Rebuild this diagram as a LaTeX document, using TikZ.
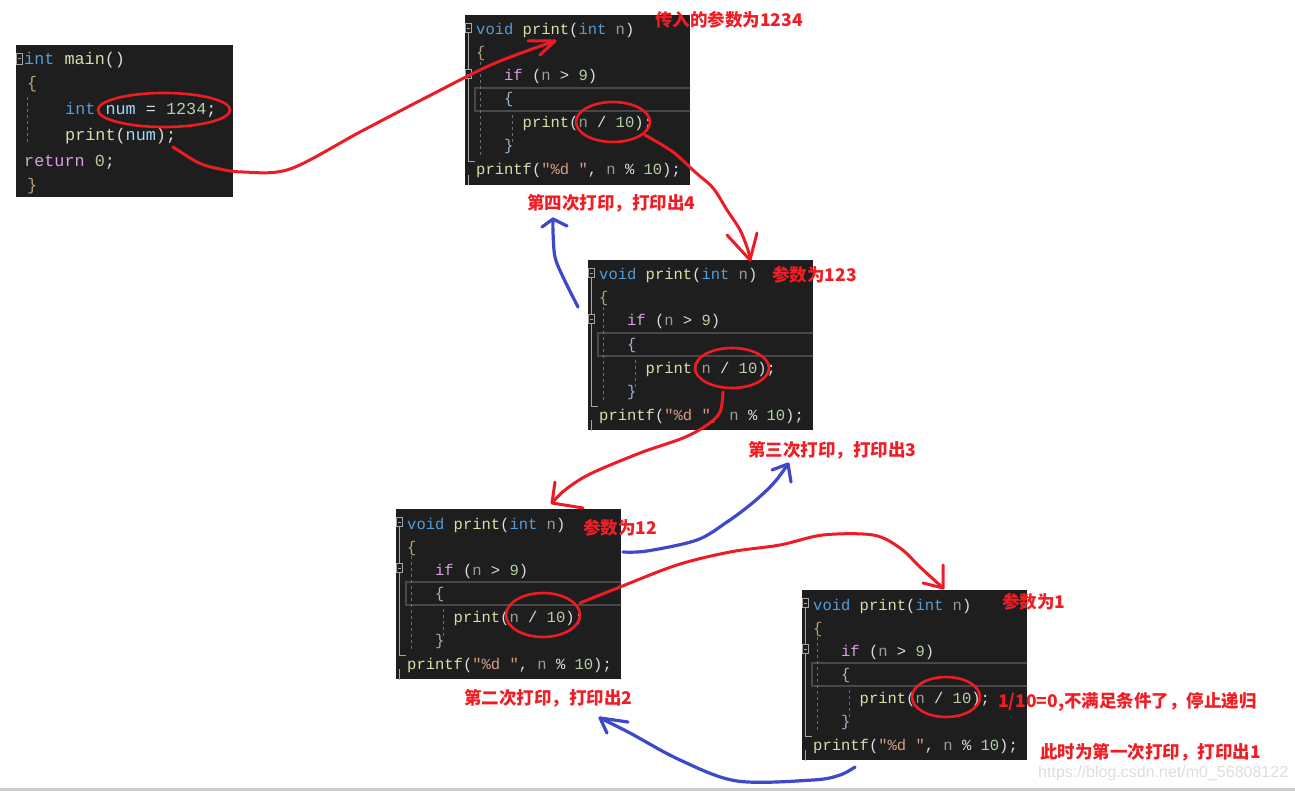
\documentclass[tikz,border=0pt]{standalone}
\usepackage{fontspec}
\setmonofont{Liberation Mono}
\newfontfamily\cjk{Noto Sans CJK SC}
\newfontfamily\wmfont{Liberation Sans}
\definecolor{codebg}{HTML}{1E1E1E}
\definecolor{kw}{HTML}{569CD6}
\definecolor{fn}{HTML}{DCDCAA}
\definecolor{ctl}{HTML}{D8A0DF}
\definecolor{par}{HTML}{9A9A9A}
\definecolor{numc}{HTML}{B5CEA8}
\definecolor{strc}{HTML}{D69D85}
\definecolor{txt}{HTML}{DCDCDC}
\definecolor{var}{HTML}{9CDCFE}
\definecolor{brc}{HTML}{B8A27A}
\definecolor{ibrc}{HTML}{9FB4C8}
\definecolor{pen}{HTML}{ED1C24}
\definecolor{labred}{HTML}{F01D25}
\definecolor{bpen}{HTML}{3F48CC}
\definecolor{foldc}{HTML}{A5A5A5}
\definecolor{guidec}{HTML}{6E6E6E}
\definecolor{hlc}{HTML}{484848}
\newcommand\ck[1]{\textcolor{kw}{#1}}
\newcommand\cf[1]{\textcolor{fn}{#1}}
\newcommand\cc[1]{\textcolor{ctl}{#1}}
\newcommand\cp[1]{\textcolor{par}{#1}}
\newcommand\cn[1]{\textcolor{numc}{#1}}
\newcommand\cs[1]{\textcolor{strc}{#1}}
\newcommand\cv[1]{\textcolor{var}{#1}}
\newcommand\cbr[1]{\textcolor{brc}{#1}}
\newcommand\cib[1]{\textcolor{ibrc}{#1}}
\tikzset{
  codebox/.style={fill=codebg, draw=none, inner sep=0, outer sep=0, anchor=north west,
    minimum width=225pt, minimum height=170pt},
  mainbox/.style={fill=codebg, draw=none, inner sep=0, outer sep=0, anchor=north west,
    minimum width=217pt, minimum height=152pt},
  code/.style={anchor=base west, inner sep=0, text=txt, font=\ttfamily\fontsize{15.5}{15.5}\selectfont},
  codem/.style={anchor=base west, inner sep=0, text=txt, font=\ttfamily\fontsize{16.8}{16.8}\selectfont},
  hlrow/.style={draw=hlc, line width=2pt},
  guide/.style={draw=guidec, line width=1pt, dash pattern=on 3pt off 3pt},
  fold/.style={draw=foldc, line width=0.8pt},
  lab/.style={anchor=west, inner sep=0, text=labred, font=\cjk\bfseries\fontsize{17.5}{17.5}\selectfont},
  redpen/.style={draw=pen, line width=3pt, line cap=round, line join=round},
  bluepen/.style={draw=bpen, line width=3.2pt, line cap=round, line join=round},
  ring/.style={draw=pen, line width=2.6pt},
}
\newcommand\printbox[3]{%
\begin{scope}[shift={(#2,#3)}]
\node[codebox] (#1) at (0,0) {};
\begin{scope}
\clip (0,0) rectangle (225,170);
\draw[hlrow] (10,73) rectangle (232,96);
\draw[guide] (15,47) -- (15,143);
\draw[guide] (47,100) -- (47,128);
\draw[fold] (0.5,8.5) rectangle (6.5,17.5);
\draw[fold] (1.8,13) -- (5.2,13);
\draw[fold] (3.5,17.5) -- (3.5,54.5);
\draw[fold] (0.5,54.5) rectangle (6.5,63.5);
\draw[fold] (1.8,59) -- (5.2,59);
\draw[fold] (3.5,63.5) -- (3.5,146) -- (10,146);
\draw[fold] (3.5,160) -- (3.5,175);
\node[code] at (11,20) {\ck{void} \cf{print}(\ck{int} \cp{n})};
\node[code] at (11,43) {\cbr{\{}};
\node[code] at (38.9,66) {\cc{if} (\cp{n} > \cn{9})};
\node[code] at (38.9,89) {\cib{\{}};
\node[code] at (57.5,113) {\cf{print}(\cp{n} / \cn{10});};
\node[code] at (38.9,136) {\cib{\}}};
\node[code] at (11,160) {\cf{printf}(\cs{"\%d "}, \cp{n} \% \cn{10});};
\node[code] at (11,184) {\cbr{\}}};
\end{scope}
\end{scope}}
\begin{document}
\begin{tikzpicture}[x=1pt,y=-1pt]
\useasboundingbox (0,0) rectangle (1295,791);
\fill[white] (0,0) rectangle (1295,791);
\fill[black!20] (0,787.5) rectangle (1295,791);

% main box
\node[mainbox] (mainb) at (16,45) {};
\draw[fold] (16.5,53) rectangle (22.5,64);
\draw[fold] (18,58.5) -- (21,58.5);
\draw[guide] (27,97) -- (27,145);
\node[codem] (m1) at (24,65) {\ck{int} \cf{main}()};
\node[codem] (m2) at (27,89) {\cbr{\{}};
\node[codem] (m3) at (65,115) {\ck{int} \cv{num} = \cn{1234};};
\node[codem] (m4) at (65,141) {\cf{print}(\cv{num});};
\node[codem] (m5) at (24,167) {\cc{return} \cn{0};};
\node[codem] (m6) at (27,191) {\cbr{\}}};

% print boxes
\printbox{p1}{465}{15}
\printbox{p2}{588}{260}
\printbox{p3}{396}{509}
\printbox{p4}{802}{590}

% red rings
\draw[ring] (164,110) ellipse [x radius=66, y radius=17];
\draw[ring] (613,122) ellipse [x radius=37, y radius=20];
\draw[ring] (732,368) ellipse [x radius=37, y radius=20];
\draw[ring] (543,615) ellipse [x radius=37, y radius=22];
\draw[ring] (946,697) ellipse [x radius=34, y radius=20];

% labels
\node[lab] (l1) at (655,20) {传入的参数为1234};
\node[lab] (l2) at (527,203) {第四次打印，打印出4};
\node[lab] (l3) at (772,275) {参数为123};
\node[lab] (l4) at (748,450) {第三次打印，打印出3};
\node[lab] (l5) at (583,528) {参数为12};
\node[lab] (l6) at (464,698) {第二次打印，打印出2};
\node[lab] (l7) at (1002,602) {参数为1};
\node[lab] (l8) at (998,702) {1/10=0,不满足条件了，停止递归};
\node[lab] (l9) at (1040,752) {此时为第一次打印，打印出1};
\node[anchor=west, inner sep=0, text=black!13, font=\wmfont\fontsize{16}{16}\selectfont] (wm) at (1038,773) {https://blog.csdn.net/m0\_56808122};

% red arrows
\coordinate (a1s) at (173,147);
\coordinate (a1e) at (555,41);
\draw[redpen] plot[smooth, tension=0.55] coordinates {(a1s) (197,162) (215,168) (243,172) (290,169) (360,132) (427,97) (493,64) (a1e)};
\draw[redpen] (528,41) -- (a1e) -- (540,55);

\coordinate (a2s) at (645,135);
\coordinate (a2e) at (750,260);
\draw[redpen] plot[smooth, tension=0.55] coordinates {(a2s) (673,152) (695,172) (713,188) (727,210) (740,230) (748,250) (a2e)};
\draw[redpen] (727,235) -- (a2e) -- (757,233);

\coordinate (a3s) at (723,392);
\coordinate (a3e) at (552,503);
\draw[redpen] plot[smooth, tension=0.55] coordinates {(a3s) (720,412) (707,425) (683,438) (640,453) (590,474) (565,490) (a3e)};
\draw[redpen] (555,482) -- (a3e) -- (583,508);

\coordinate (a4s) at (580,603);
\coordinate (a4e) at (943,588);
\draw[redpen] plot[smooth, tension=0.55] coordinates {(a4s) (620,587) (677,565) (730,552) (780,545) (823,535) (873,535) (900,548) (920,567) (a4e)};
\draw[redpen] (943,565) -- (a4e) -- (923,583);

% blue arrows
\coordinate (b1s) at (578,307);
\coordinate (b1e) at (553,219);
\draw[bluepen] plot[smooth, tension=0.55] coordinates {(b1s) (563,277) (555,257) (553,232) (b1e)};
\draw[bluepen] (542,227) -- (b1e) -- (567,226);

\coordinate (b2s) at (623,552);
\coordinate (b2e) at (788,464);
\draw[bluepen] plot[smooth, tension=0.55] coordinates {(b2s) (647,551) (697,540) (727,522) (750,505) (767,490) (778,478) (b2e)};
\draw[bluepen] (772,470) -- (b2e) -- (791,482);

\coordinate (b3s) at (855,767);
\coordinate (b3e) at (600,718);
\draw[bluepen] plot[smooth, tension=0.55] coordinates {(b3s) (840,775) (813,780) (737,781) (680,760) (630,733) (b3e)};
\draw[bluepen] (628,722) -- (b3e) -- (607,733);
\end{tikzpicture}
\end{document}
